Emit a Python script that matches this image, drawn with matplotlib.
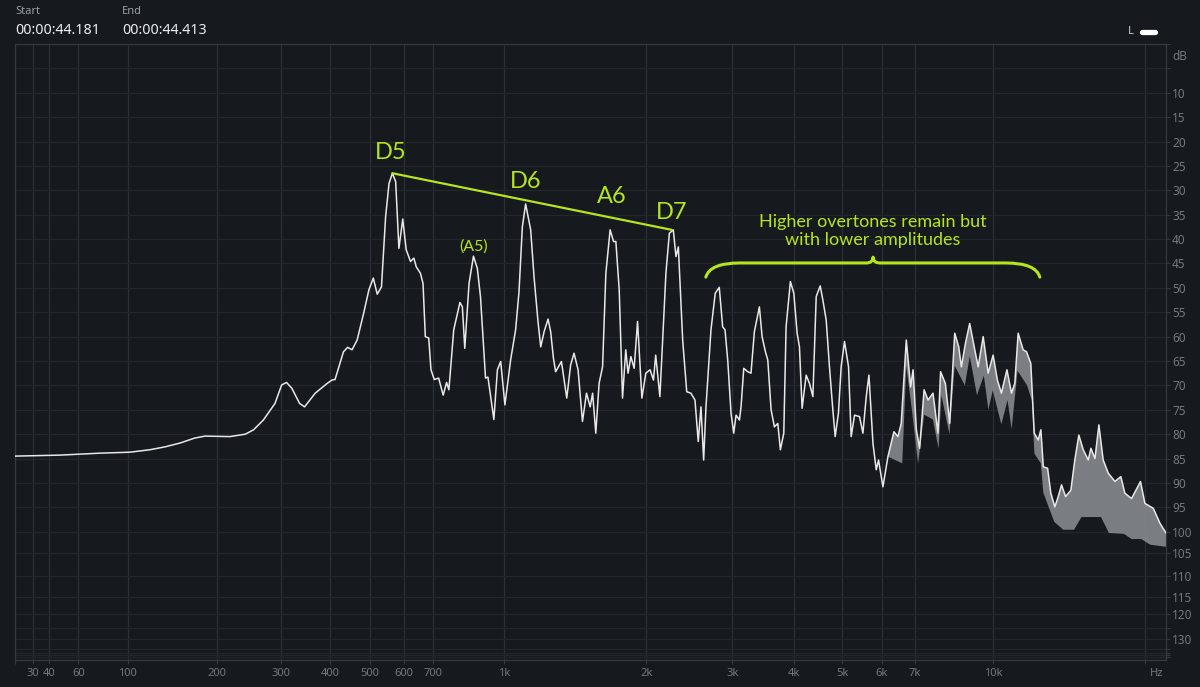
import numpy as np
import matplotlib
matplotlib.use("Agg")
import matplotlib.pyplot as plt
from matplotlib.path import Path
from matplotlib.patches import PathPatch
from matplotlib.lines import Line2D
from matplotlib.transforms import IdentityTransform

W, H = 1200, 687
BG = "#16191d"
GRID_X = "#2a3036"
GRID_Y = "#22272c"
FRAME = "#343a41"
TICKTXT = "#737980"
LIME = "#b5e61d"
LINE = "#e8e8e8"
FILL = "#8c8f93"

# spectrum (upper trace), Hz / dB
freq_hz = [20, 47, 76, 102, 121, 137, 154, 171, 184, 218, 241, 254, 270, 290, 302, 311, 321, 336, 346, 368,
           394, 405, 412, 432, 442, 453, 466, 483, 497, 509, 520, 532, 544, 554, 564, 574, 584, 596, 607, 621,
           632, 640, 654, 663, 671, 683, 691, 703, 719, 736, 749, 758, 777, 802, 812, 822, 840, 859, 876, 890,
           913, 924, 952, 969, 985, 1006, 1035, 1061, 1079, 1097, 1115, 1143, 1162, 1185, 1201, 1221, 1245,
           1261, 1278, 1292, 1329, 1364, 1390, 1413, 1441, 1472, 1501, 1528, 1546, 1570, 1595, 1622, 1648,
           1682, 1710, 1729, 1757, 1785, 1813, 1833, 1858, 1887, 1918, 1958, 1995, 2036, 2069, 2091, 2133,
           2161, 2195, 2231, 2273, 2302, 2328, 2376, 2422, 2470, 2518, 2557, 2590, 2623, 2652, 2715, 2770,
           2823, 2868, 2900, 2937, 2983, 3021, 3054, 3103, 3126, 3166, 3226, 3275, 3327, 3406, 3449, 3503,
           3542, 3597, 3653, 3711, 3756, 3816, 3857, 3935, 3998, 4060, 4104, 4155, 4234, 4300, 4368, 4436,
           4519, 4575, 4646, 4717, 4791, 4843, 4917, 4979, 5057, 5152, 5215, 5297, 5420, 5506, 5591, 5661,
           5767, 5855, 5917, 6038, 6179, 6352, 6470, 6569, 6724, 6859, 6937, 7042, 7150, 7297, 7432, 7602,
           7777, 7872, 8046, 8207, 8400, 8555, 8660, 8822, 8996, 9208, 9353, 9570, 9790, 10015, 10212, 10403,
           10670, 10894, 11060, 11232, 11490, 11670, 11900, 12090, 12310, 12460, 12600, 12850, 13040, 13280,
           13490, 13695, 13950, 14290, 14550, 14820, 15120, 15470, 15660, 15950, 16240, 16560, 16950, 17470,
           17950, 18280, 18850, 19630, 20030, 20810, 21460, 22050]
level_db = [-84.5, -84.3, -83.9, -83.7, -83.2, -82.6, -81.8, -80.8, -80.4, -80.5, -80.0, -79.1, -77.1, -73.7,
            -69.9, -69.4, -70.6, -73.7, -74.4, -71.6, -69.6, -68.9, -68.8, -63.1, -62.2, -62.7, -60.7, -55.2,
            -50.4, -48.0, -51.3, -49.8, -35.4, -28.6, -26.5, -28.2, -41.9, -35.9, -42.2, -44.6, -43.9, -45.7,
            -47.0, -49.1, -60.0, -60.3, -66.8, -68.8, -68.5, -72.0, -69.4, -70.9, -58.6, -53.0, -53.9, -62.4,
            -49.1, -43.5, -46.0, -51.8, -68.5, -68.3, -77.0, -66.8, -65.1, -74.0, -64.8, -58.6, -50.8, -37.5,
            -32.8, -38.1, -47.7, -56.9, -62.1, -59.0, -56.4, -59.0, -64.4, -67.2, -65.1, -72.6, -65.8, -63.4,
            -66.8, -77.4, -71.6, -74.4, -71.6, -79.8, -69.6, -66.2, -47.0, -38.1, -40.5, -40.5, -50.4, -72.6,
            -62.7, -67.5, -64.1, -66.5, -56.9, -72.6, -67.5, -66.8, -68.9, -63.8, -72.3, -60.7, -47.0, -38.8,
            -38.1, -43.6, -41.6, -60.7, -71.3, -71.6, -73.0, -81.5, -74.4, -85.3, -74.4, -58.6, -51.1, -49.9,
            -58.0, -58.6, -64.8, -75.7, -79.8, -76.1, -77.1, -74.4, -66.5, -67.2, -67.5, -59.0, -53.9, -60.0,
            -63.1, -64.8, -75.0, -78.5, -77.8, -83.2, -79.8, -58.0, -48.7, -51.1, -59.3, -62.1, -74.7, -67.9,
            -69.6, -72.3, -51.8, -49.6, -52.5, -56.6, -66.2, -75.0, -80.5, -75.7, -66.2, -61.0, -66.2, -80.5,
            -76.1, -76.4, -79.8, -72.3, -67.9, -81.9, -87.3, -85.3, -90.8, -84.6, -79.5, -80.5, -77.8, -60.7,
            -70.3, -66.8, -79.1, -82.9, -70.9, -73.0, -71.6, -79.8, -67.2, -69.6, -77.8, -59.3, -62.1, -66.2,
            -61.4, -57.3, -62.7, -66.2, -60.0, -67.5, -63.8, -68.9, -71.6, -66.8, -71.6, -69.6, -59.3, -62.7,
            -63.1, -65.5, -79.8, -81.2, -79.1, -86.7, -87.0, -92.1, -94.9, -92.8, -90.4, -92.8, -91.5, -85.3,
            -80.2, -83.2, -85.3, -82.9, -85.0, -78.1, -85.3, -88.0, -89.7, -88.7, -92.1, -93.2, -89.7, -94.2,
            -95.2, -98.3, -100.3]

# lower edge of the dense (grey) band at high frequencies
floor_hz = [6179, 6600, 6724, 6900, 7100, 7300, 7600, 7800, 7900, 8200, 8400, 8800, 9000, 9300, 9600,
            9800, 10000, 10400, 10700, 10900, 11200, 11700, 11950, 12100, 12460, 12600, 13250, 13800,
            14500, 15000, 16400, 17000, 18200, 18850, 19700, 20500, 22050]
floor_db = [-84.6, -86.0, -66.0, -75.0, -86.0, -76.0, -77.0, -83.0, -72.0, -80.0, -66.0, -70.0, -64.0,
            -72.0, -68.0, -75.0, -71.0, -78.0, -73.0, -79.0, -67.0, -70.0, -73.0, -84.0, -86.0, -92.0,
            -98.0, -99.6, -99.6, -97.0, -97.0, -100.3, -100.5, -101.7, -101.7, -103.0, -103.5]

freq_ticks = [20, 30, 40, 60, 100, 200, 300, 400, 500, 600, 700, 1000, 2000, 3000, 4000, 5000, 6000,
              7000, 10000, 20000]
freq_labels = ["", "30", "40", "60", "100", "200", "300", "400", "500", "600", "700", "1k", "2k", "3k",
               "4k", "5k", "6k", "7k", "10k", ""]
db_ticks = [0, -5] + list(range(-10, -121, -5)) + [-125, -130, -140, -150, -160, -170]

note_labels = ["D5", "D6", "A6", "D7"]
note_hz = [560, 1118, 1695, 2257]
note_db = [-22.3, -28.2, -31.3, -34.6]
trend_hz = [564, 2254]
trend_db = [-26.5, -38.1]

# frequency axis: log(f + 100) warp as in the analyser
def fwd_x(f):
    return np.log10(np.asarray(f, dtype=float) + 100.0)

def inv_x(v):
    return 10.0 ** np.asarray(v, dtype=float) - 100.0

# level axis: linear to -100 dB, compressed below
_DBK = np.array([0, 100, 105, 110, 115, 120, 125, 130, 140, 150, 160, 170, 180], dtype=float)
_PXK = np.array([0, 487.7, 509.3, 532, 553, 570, 584, 595.3, 605, 608.7, 610.7, 613, 616], dtype=float)

def fwd_y(v):
    return -np.interp(-np.asarray(v, dtype=float), _DBK, _PXK)

def inv_y(u):
    return -np.interp(-np.asarray(u, dtype=float), _PXK, _DBK)


fig = plt.figure(figsize=(W / 100, H / 100), dpi=100, facecolor=BG)
ax = fig.add_axes([15 / W, 1 - 660 / H, 1151 / W, 616 / H], facecolor=BG)
ax.set_xscale("function", functions=(fwd_x, inv_x))
ax.set_yscale("function", functions=(fwd_y, inv_y))
ax.set_xlim(20, 22050)
ax.set_ylim(-180, 0)

ax.set_xticks(freq_ticks)
ax.set_xticklabels(freq_labels)
ax.xaxis.set_minor_locator(matplotlib.ticker.NullLocator())
ax.set_yticks(db_ticks)
ax.set_yticklabels([str(-t) if (10 <= -t <= 120 and t % 5 == 0) or t == -130 else "" for t in db_ticks])
ax.yaxis.set_minor_locator(matplotlib.ticker.NullLocator())
ax.yaxis.tick_right()
ax.tick_params(axis="x", direction="out", length=3, width=0.8, color=FRAME, labelcolor=TICKTXT,
               labelsize=8, pad=3)
ax.tick_params(axis="y", direction="out", length=3, width=0.8, color=FRAME, labelcolor=TICKTXT,
               labelsize=8.5, pad=1.5)
for lab in ax.get_xticklabels() + ax.get_yticklabels():
    lab.set_family("Noto Sans")
ax.xaxis.grid(True, color=GRID_X, lw=0.9)
ax.yaxis.grid(True, color=GRID_Y, lw=0.9)
ax.set_axisbelow(True)
for sp in ax.spines.values():
    sp.set_color(FRAME)
    sp.set_linewidth(0.9)

# grey band + trace
band_x = [f for f in freq_hz if f >= floor_hz[0]]
band_y = [d for f, d in zip(freq_hz, level_db) if f >= floor_hz[0]]
ax.fill(band_x + floor_hz[::-1], band_y + floor_db[::-1], color=FILL, alpha=0.85, lw=0, zorder=2)
ax.plot(freq_hz, level_db, color=LINE, lw=1.1, zorder=3, solid_joinstyle="round")

# annotations
ax.plot(trend_hz, trend_db, color=LIME, lw=1.6, zorder=4, solid_capstyle="round")
for lab, f, d in zip(note_labels, note_hz, note_db):
    ax.text(f, d, lab, color=LIME, fontsize=17, family="Lato", ha="center", va="center", zorder=5)
ax.text(858, -41.6, "(A5)", color=LIME, fontsize=11.5, family="Lato", ha="center", va="center", zorder=5)
ax.text(5770, -38.3, "Higher overtones remain but\nwith lower amplitudes", color=LIME, fontsize=13,
        family="Lato", ha="center", va="center", linespacing=1.15, zorder=5)

# curly brace over the upper partials
p0 = ax.transData.transform((2650, -47.8))
p1 = ax.transData.transform((12400, -47.8))
pc = ax.transData.transform((5770, -44.9))
ptip = ax.transData.transform((5770, -43.7))
x0, y0 = p0
x1 = p1[0]
xc, yf = pc
yt = ptip[1]
r, r2 = 34, 7
verts = [(x0, y0), (x0 + 4, yf), (x0 + r, yf), (xc - r2, yf), (xc, yf), (xc, yt),
         (xc, yf), (xc + r2, yf), (x1 - r, yf), (x1 - 4, yf), (x1, y0)]
codes = [Path.MOVETO, Path.CURVE3, Path.CURVE3, Path.LINETO, Path.CURVE3, Path.CURVE3,
         Path.CURVE3, Path.CURVE3, Path.LINETO, Path.CURVE3, Path.CURVE3]
brace = PathPatch(Path(verts, codes), fill=False, ec=LIME, lw=2.2, capstyle="round",
                  joinstyle="round", transform=IdentityTransform())
fig.add_artist(brace)

# axis unit labels
fig.text(1172 / W, 1 - 56 / H, "dB", color=TICKTXT, fontsize=8.5, family="Noto Sans", ha="left", va="center")
fig.text(1157 / W, 1 - 673 / H, "Hz", color=TICKTXT, fontsize=8, family="Noto Sans", ha="center", va="center")

# header
fig.text(15 / W, 1 - 11 / H, "Start", color="#9a9ea3", fontsize=8, family="Noto Sans", va="center")
fig.text(15 / W, 1 - 30 / H, "00:00:44.181", color="#eceef0", fontsize=10.2, family="Noto Sans", va="center")
fig.text(122 / W, 1 - 11 / H, "End", color="#9a9ea3", fontsize=8, family="Noto Sans", va="center")
fig.text(122 / W, 1 - 30 / H, "00:00:44.413", color="#eceef0", fontsize=10.2, family="Noto Sans", va="center")
fig.text(1131 / W, 1 - 32 / H, "L", color="#c8ccd0", fontsize=8, family="Noto Sans", ha="center", va="center")
fig.add_artist(Line2D([1142 / W, 1155 / W], [1 - 32 / H, 1 - 32 / H], lw=3.8, color="white",
                      solid_capstyle="round", transform=fig.transFigure))

fig.savefig("out.png", dpi=100, facecolor=BG)
